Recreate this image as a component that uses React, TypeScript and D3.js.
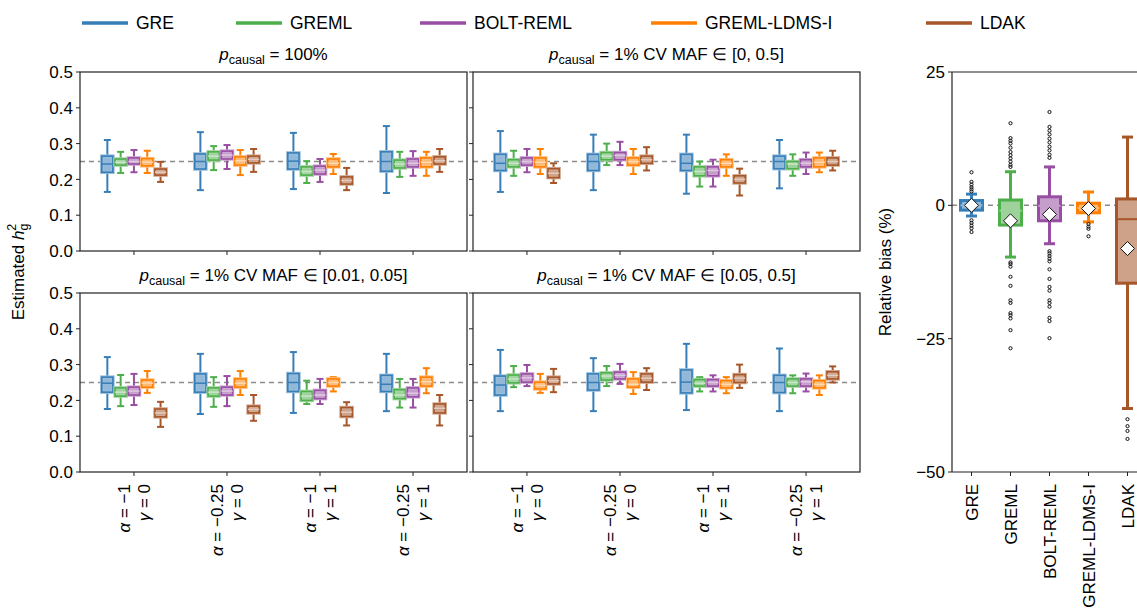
import React from 'react';
import * as d3 from 'd3';

const methods = ['GRE', 'GREML', 'BOLT-REML', 'GREML-LDMS-I', 'LDAK'];
const colors = ['#377eb8', '#4daf4a', '#984ea3', '#ff7f00', '#a65628'];
const groupAlpha = ['\u22121', '\u22120.25', '\u22121', '\u22120.25'];
const groupGamma = ['0', '0', '1', '1'];
const hTicks = [0, 0.1, 0.2, 0.3, 0.4, 0.5];
const biasTicks = [25, 0, -25, -50];
const truthH2 = 0.25;

// [whiskerLow, q1, median, q3, whiskerHigh] per method (rows) per group (cols)
const statsAll = [
  [[0.165, 0.22, 0.243, 0.265, 0.31], [0.17, 0.229, 0.25, 0.271, 0.332], [0.173, 0.229, 0.251, 0.274, 0.33], [0.162, 0.223, 0.25, 0.277, 0.349]],
  [[0.218, 0.24, 0.248, 0.257, 0.277], [0.226, 0.254, 0.265, 0.277, 0.293], [0.19, 0.212, 0.222, 0.235, 0.251], [0.207, 0.232, 0.243, 0.254, 0.277]],
  [[0.22, 0.243, 0.25, 0.26, 0.282], [0.229, 0.257, 0.268, 0.279, 0.296], [0.193, 0.215, 0.226, 0.237, 0.257], [0.21, 0.235, 0.245, 0.257, 0.279]],
  [[0.218, 0.238, 0.248, 0.258, 0.28], [0.212, 0.24, 0.252, 0.263, 0.282], [0.215, 0.235, 0.245, 0.257, 0.271], [0.21, 0.235, 0.248, 0.26, 0.277]],
  [[0.193, 0.212, 0.22, 0.229, 0.249], [0.221, 0.246, 0.256, 0.265, 0.285], [0.17, 0.187, 0.197, 0.207, 0.232], [0.221, 0.243, 0.252, 0.263, 0.285]],
];
const statsCvAll = [
  [[0.165, 0.225, 0.245, 0.27, 0.335], [0.17, 0.225, 0.25, 0.27, 0.325], [0.16, 0.225, 0.245, 0.27, 0.325], [0.175, 0.23, 0.25, 0.265, 0.31]],
  [[0.21, 0.235, 0.245, 0.255, 0.28], [0.24, 0.255, 0.265, 0.275, 0.3], [0.18, 0.21, 0.222, 0.235, 0.25], [0.21, 0.23, 0.243, 0.25, 0.27]],
  [[0.22, 0.24, 0.25, 0.26, 0.285], [0.24, 0.255, 0.267, 0.275, 0.305], [0.18, 0.21, 0.225, 0.235, 0.255], [0.215, 0.235, 0.245, 0.255, 0.275]],
  [[0.215, 0.235, 0.248, 0.26, 0.285], [0.215, 0.24, 0.25, 0.26, 0.285], [0.21, 0.235, 0.245, 0.255, 0.27], [0.22, 0.235, 0.248, 0.26, 0.275]],
  [[0.19, 0.205, 0.217, 0.23, 0.245], [0.225, 0.245, 0.255, 0.265, 0.29], [0.155, 0.19, 0.2, 0.21, 0.23], [0.225, 0.24, 0.25, 0.26, 0.28]],
];
const statsCvLow = [
  [[0.176, 0.223, 0.248, 0.265, 0.321], [0.162, 0.223, 0.248, 0.274, 0.33], [0.165, 0.225, 0.25, 0.275, 0.335], [0.17, 0.225, 0.245, 0.27, 0.33]],
  [[0.184, 0.212, 0.223, 0.235, 0.271], [0.182, 0.212, 0.223, 0.235, 0.265], [0.19, 0.2, 0.212, 0.225, 0.255], [0.18, 0.205, 0.215, 0.23, 0.26]],
  [[0.187, 0.215, 0.226, 0.237, 0.274], [0.184, 0.215, 0.226, 0.237, 0.268], [0.19, 0.205, 0.215, 0.228, 0.26], [0.18, 0.21, 0.22, 0.235, 0.26]],
  [[0.221, 0.237, 0.248, 0.257, 0.282], [0.215, 0.237, 0.248, 0.26, 0.282], [0.225, 0.24, 0.25, 0.26, 0.265], [0.22, 0.24, 0.252, 0.265, 0.29]],
  [[0.126, 0.154, 0.165, 0.176, 0.196], [0.143, 0.165, 0.175, 0.184, 0.215], [0.13, 0.155, 0.167, 0.18, 0.195], [0.13, 0.165, 0.178, 0.19, 0.215]],
];
const statsCvHigh = [
  [[0.17, 0.215, 0.243, 0.268, 0.341], [0.17, 0.229, 0.25, 0.274, 0.318], [0.173, 0.221, 0.251, 0.285, 0.358], [0.17, 0.222, 0.25, 0.27, 0.345]],
  [[0.237, 0.249, 0.26, 0.271, 0.296], [0.24, 0.257, 0.268, 0.277, 0.296], [0.225, 0.24, 0.248, 0.258, 0.265], [0.22, 0.24, 0.25, 0.26, 0.27]],
  [[0.24, 0.251, 0.263, 0.274, 0.299], [0.246, 0.26, 0.27, 0.279, 0.302], [0.225, 0.24, 0.25, 0.258, 0.27], [0.225, 0.24, 0.252, 0.26, 0.275]],
  [[0.221, 0.232, 0.242, 0.251, 0.274], [0.218, 0.237, 0.245, 0.26, 0.279], [0.22, 0.235, 0.245, 0.255, 0.265], [0.215, 0.235, 0.245, 0.255, 0.27]],
  [[0.223, 0.246, 0.255, 0.265, 0.288], [0.229, 0.251, 0.262, 0.274, 0.29], [0.235, 0.25, 0.262, 0.272, 0.3], [0.25, 0.26, 0.27, 0.28, 0.295]],
];

// Relative bias (%) panel
const biasStats = [
  [-2.0, -0.9, 0, 0.9, 2.1],
  [-9.7, -3.7, -1.0, 1.0, 6.3],
  [-7.2, -2.9, -0.1, 1.6, 7.2],
  [-3.1, -1.4, -0.5, 0.4, 2.5],
  [-38.1, -14.6, -2.6, 1.2, 12.8],
];
const biasMeans = [0, -2.9, -1.7, -0.6, -8.1];
const biasOutliers = [
  [6.2, 4.4, 3.9, 3.4, 3.0, 2.6, -2.8, -3.3, -3.8, -4.3, -5.0],
  [15.4, 12.6, 12.1, 11.6, 10.8, 10.0, 9.4, 8.8, 8.2, 7.6, 7.2, -10.7, -11.0, -11.5, -13.4, -15.1, -17.8, -18.3, -20.2, -20.6, -21.2, -23.4, -26.8],
  [17.5, 14.7, 14.0, 13.3, 12.5, 11.8, 11.0, 10.3, 9.5, 8.9, -8.6, -9.0, -9.5, -10.0, -10.5, -12.0, -13.8, -15.3, -16.0, -17.8, -18.3, -19.0, -21.1, -21.7, -24.9],
  [-3.5, -4.0, -4.4, -5.8],
  [-40.1, -41.4, -42.3, -43.8],
];

const FONT = '"Liberation Sans", Arial, Helvetica, sans-serif';
const FS = 17;
const light = (c: string, t: number) => d3.interpolateRgb(c, '#ffffff')(t);

type PanelDef = {
  x0: number; x1: number; top: number; bottom: number;
  title: React.ReactNode; data: number[][][]; yLabels: boolean; xLabels: boolean;
};

function pTitle(rest: string) {
  return (
    <>
      <tspan fontStyle="italic">p</tspan>
      <tspan fontSize={12.5} dy={4}>causal</tspan>
      <tspan dy={-4}>{rest}</tspan>
    </>
  );
}

function Panel({ p }: { p: PanelDef }) {
  const x = d3.scaleLinear().domain([-0.58, 3.58]).range([p.x0, p.x1]);
  const y = d3.scaleLinear().domain([0, 0.5]).range([p.bottom, p.top]);
  const off = 0.143;
  const bw = x(0.12) - x(0);
  const cw = 7;
  const cx = (p.x0 + p.x1) / 2;
  return (
    <g>
      <text x={cx} y={p.top - 12} textAnchor="middle" fontSize={FS} fontFamily={FONT}>{p.title}</text>
      <line x1={p.x0} x2={p.x1} y1={y(truthH2)} y2={y(truthH2)} stroke="#8a8a8a" strokeWidth={1.5} strokeDasharray="5,4" />
      {p.data.map((rows, mi) => rows.map((s, gi) => {
        const c = colors[mi];
        const xc = x(gi + (mi - 2) * off);
        return (
          <g key={`${mi}-${gi}`}>
            <line x1={xc} x2={xc} y1={y(s[3])} y2={y(s[4])} stroke={c} strokeWidth={2} />
            <line x1={xc} x2={xc} y1={y(s[1])} y2={y(s[0])} stroke={c} strokeWidth={2} />
            <line x1={xc - cw / 2} x2={xc + cw / 2} y1={y(s[4])} y2={y(s[4])} stroke={c} strokeWidth={2} />
            <line x1={xc - cw / 2} x2={xc + cw / 2} y1={y(s[0])} y2={y(s[0])} stroke={c} strokeWidth={2} />
            <rect x={xc - bw / 2} width={bw} y={y(s[3])} height={y(s[1]) - y(s[3])} fill={light(c, 0.45)} stroke={light(c, 0.5)} strokeWidth={3.5} />
            <rect x={xc - bw / 2} width={bw} y={y(s[3])} height={y(s[1]) - y(s[3])} fill="none" stroke={c} strokeWidth={1.6} />
            <line x1={xc - bw / 2} x2={xc + bw / 2} y1={y(s[2])} y2={y(s[2])} stroke={mi === 0 ? c : light(c, 0.7)} strokeWidth={1.5} />
          </g>
        );
      }))}
      <rect x={p.x0} y={p.top} width={p.x1 - p.x0} height={p.bottom - p.top} fill="none" stroke="#222" strokeWidth={1.2} />
      {hTicks.map(t => (
        <g key={t}>
          <line x1={p.x0 - 4} x2={p.x0} y1={y(t)} y2={y(t)} stroke="#222" strokeWidth={1} />
          {p.yLabels && (
            <text x={p.x0 - 7} y={y(t)} dy="0.36em" textAnchor="end" fontSize={FS} fontFamily={FONT}>{t.toFixed(1)}</text>
          )}
        </g>
      ))}
      {groupAlpha.map((a, gi) => (
        <g key={gi}>
          <line x1={x(gi)} x2={x(gi)} y1={p.bottom} y2={p.bottom + 4} stroke="#222" strokeWidth={1} />
          {p.xLabels && (
            <g fontSize={FS} fontFamily={FONT}>
              <text transform={`translate(${x(gi) - 10},${p.bottom + 12}) rotate(-90)`} textAnchor="end" dy="0.36em">
                <tspan fontStyle="italic">α</tspan>{` = ${a}`}
              </text>
              <text transform={`translate(${x(gi) + 10},${p.bottom + 12}) rotate(-90)`} textAnchor="end" dy="0.36em">
                <tspan fontStyle="italic">γ</tspan>{` = ${groupGamma[gi]}`}
              </text>
            </g>
          )}
        </g>
      ))}
    </g>
  );
}

function BiasPanel() {
  const x = d3.scaleLinear().domain([0.5, 5.5]).range([952, 1147]);
  const y = d3.scaleLinear().domain([-50, 25]).range([472, 72]);
  const bw = 22;
  const cw = 11;
  return (
    <g>
      <line x1={952} x2={1147} y1={y(0)} y2={y(0)} stroke="#8a8a8a" strokeWidth={1.5} strokeDasharray="5,4" />
      {biasStats.map((s, mi) => {
        const c = colors[mi];
        const xc = x(mi + 1);
        return (
          <g key={mi}>
            <line x1={xc} x2={xc} y1={y(s[3])} y2={y(s[4])} stroke={c} strokeWidth={3} />
            <line x1={xc} x2={xc} y1={y(s[1])} y2={y(s[0])} stroke={c} strokeWidth={3} />
            <line x1={xc - cw / 2} x2={xc + cw / 2} y1={y(s[4])} y2={y(s[4])} stroke={c} strokeWidth={3} />
            <line x1={xc - cw / 2} x2={xc + cw / 2} y1={y(s[0])} y2={y(s[0])} stroke={c} strokeWidth={3} />
            <rect x={xc - bw / 2} width={bw} y={y(s[3])} height={y(s[1]) - y(s[3])} fill={light(c, 0.45)} stroke={c} strokeWidth={3} />
            <line x1={xc - bw / 2} x2={xc + bw / 2} y1={y(s[2])} y2={y(s[2])} stroke={mi === 4 ? c : light(c, 0.45)} strokeWidth={2} />
            {biasOutliers[mi].map((o, oi) => (
              <circle key={oi} cx={xc} cy={y(o)} r={1.6} fill="none" stroke="#111" strokeWidth={1} />
            ))}
            <path d={`M${xc},${y(biasMeans[mi]) - 7}L${xc + 7},${y(biasMeans[mi])}L${xc},${y(biasMeans[mi]) + 7}L${xc - 7},${y(biasMeans[mi])}Z`} fill="#fff" stroke="#111" strokeWidth={1} />
          </g>
        );
      })}
      <line x1={952} x2={1147} y1={72} y2={72} stroke="#222" strokeWidth={1.2} />
      <line x1={952} x2={1147} y1={472} y2={472} stroke="#222" strokeWidth={1.2} />
      <line x1={952} x2={952} y1={72} y2={472} stroke="#222" strokeWidth={1.2} />
      {biasTicks.map(t => (
        <g key={t}>
          <line x1={948} x2={952} y1={y(t)} y2={y(t)} stroke="#222" />
          <text x={945} y={y(t)} dy="0.36em" textAnchor="end" fontSize={FS} fontFamily={FONT}>{t < 0 ? `\u2212${-t}` : `${t}`}</text>
        </g>
      ))}
      {methods.map((m, mi) => (
        <g key={m}>
          <line x1={x(mi + 1)} x2={x(mi + 1)} y1={472} y2={476} stroke="#222" />
          <text transform={`translate(${x(mi + 1)},${484}) rotate(-90)`} textAnchor="end" dy="0.36em" fontSize={FS} fontFamily={FONT}>{m}</text>
        </g>
      ))}
      <text transform="translate(891,272) rotate(-90)" textAnchor="middle" fontSize={FS} fontFamily={FONT}>Relative bias (%)</text>
    </g>
  );
}

const legendX = [82, 236, 420, 651, 926];

export default function App() {
  const panels: PanelDef[] = [
    { x0: 80, x1: 467, top: 72, bottom: 251, title: pTitle(' = 100%'), data: statsAll, yLabels: true, xLabels: false },
    { x0: 473, x1: 860, top: 72, bottom: 251, title: pTitle(' = 1% CV MAF \u2208 [0, 0.5]'), data: statsCvAll, yLabels: false, xLabels: false },
    { x0: 80, x1: 467, top: 293, bottom: 472, title: pTitle(' = 1% CV MAF \u2208 [0.01, 0.05]'), data: statsCvLow, yLabels: true, xLabels: true },
    { x0: 473, x1: 860, top: 293, bottom: 472, title: pTitle(' = 1% CV MAF \u2208 [0.05, 0.5]'), data: statsCvHigh, yLabels: false, xLabels: true },
  ];
  return (
    <svg width={1137} height={609} style={{ position: 'absolute', left: 0, top: 0, background: '#fff' }} fontFamily={FONT}>
      <rect x={0} y={0} width={1137} height={609} fill="#fff" />
      {methods.map((m, i) => (
        <g key={m}>
          <line x1={legendX[i]} x2={legendX[i] + 46} y1={23} y2={23} stroke={colors[i]} strokeWidth={3.5} />
          <text x={legendX[i] + 54} y={23} dy="0.36em" fontSize={17.5} fontFamily={FONT}>{m}</text>
        </g>
      ))}
      {panels.map((p, i) => <Panel key={i} p={p} />)}
      <text transform="translate(24,272) rotate(-90)" textAnchor="middle" fontSize={FS} fontFamily={FONT}>
        Estimated <tspan fontStyle="italic">h</tspan>
        <tspan fontSize={12.5} dy={4}>g</tspan>
        <tspan fontSize={12.5} dx={-7} dy={-12}>2</tspan>
      </text>
      <BiasPanel />
    </svg>
  );
}
